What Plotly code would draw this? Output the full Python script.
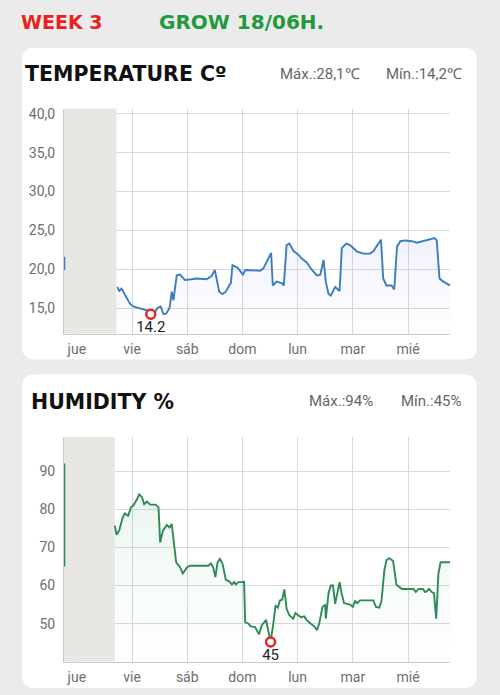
import plotly.graph_objects as go

W, H = 500, 695

# ---------------- data ----------------
day_ticks = [0, 1, 2, 3, 4, 5, 6]
day_labels = ["jue", "vie", "sáb", "dom", "lun", "mar", "mié"]

temp_ticks = [15, 20, 25, 30, 35, 40]
temp_tick_text = ["15,0", "20,0", "25,0", "30,0", "35,0", "40,0"]
hum_ticks = [50, 60, 70, 80, 90]
hum_tick_text = ["50", "60", "70", "80", "90"]

temp_day = [0.734, 0.77, 0.81, 0.89, 0.96, 1.02, 1.14, 1.27, 1.34, 1.42, 1.46, 1.52, 1.57, 1.62,
            1.68, 1.72, 1.75, 1.81, 1.87, 1.96, 2.08, 2.17, 2.35, 2.44, 2.50, 2.55, 2.58, 2.64,
            2.70, 2.76, 2.79, 2.82, 2.91, 3.01, 3.05, 3.32, 3.38, 3.52, 3.55, 3.62, 3.71, 3.75,
            3.80, 3.85, 3.93, 4.01, 4.07, 4.16, 4.26, 4.35, 4.41, 4.47, 4.51, 4.56, 4.60, 4.68,
            4.76, 4.80, 4.88, 4.95, 5.07, 5.19, 5.31, 5.37, 5.43, 5.51, 5.55, 5.61, 5.70, 5.75,
            5.80, 5.86, 5.95, 6.07, 6.16, 6.28, 6.40, 6.48, 6.52, 6.57, 6.64, 6.70, 6.76]
temp_val = [17.7, 17.2, 17.5, 16.5, 15.6, 15.2, 15.0, 14.7, 14.2, 14.5, 15.0, 15.2, 14.2, 14.3,
            15.0, 17.1, 16.0, 19.2, 19.3, 18.6, 18.7, 18.8, 18.7, 19.1, 19.9, 18.4, 17.1, 16.8,
            17.1, 17.9, 18.2, 20.5, 20.2, 19.3, 19.9, 19.8, 20.1, 22.1, 17.9, 18.4, 18.2, 17.9,
            23.1, 23.3, 22.3, 21.9, 21.4, 20.9, 19.9, 19.2, 19.3, 21.2, 18.4, 16.8, 16.6, 17.7,
            17.2, 22.7, 23.3, 23.1, 22.3, 22.0, 22.0, 22.3, 23.0, 23.8, 18.8, 17.9, 17.9, 17.4,
            22.9, 23.6, 23.7, 23.6, 23.4, 23.6, 23.8, 24.0, 23.7, 18.8, 18.4, 18.2, 17.9]
temp_edge_day = [-0.226, -0.226]
temp_edge_val = [21.6, 19.9]
temp_min_day = [1.34]
temp_min_val = [14.2]

hum_day = [0.69, 0.72, 0.77, 0.83, 0.87, 0.93, 0.98, 1.02, 1.09, 1.13, 1.18, 1.22, 1.27, 1.33,
           1.43, 1.48, 1.51, 1.56, 1.63, 1.68, 1.72, 1.75, 1.80, 1.87, 1.92, 2.00, 2.05, 2.38,
           2.43, 2.47, 2.51, 2.55, 2.59, 2.64, 2.70, 2.76, 2.81, 2.85, 2.88, 2.93, 3.01, 3.03,
           3.05, 3.11, 3.15, 3.23, 3.26, 3.30, 3.35, 3.43, 3.46, 3.51, 3.56, 3.60, 3.64, 3.68,
           3.72, 3.76, 3.80, 3.85, 3.92, 3.96, 4.01, 4.06, 4.12, 4.16, 4.24, 4.30, 4.35, 4.39,
           4.45, 4.50, 4.51, 4.56, 4.60, 4.64, 4.68, 4.71, 4.76, 4.80, 4.84, 4.95, 5.00, 5.04,
           5.08, 5.13, 5.37, 5.42, 5.48, 5.52, 5.57, 5.61, 5.66, 5.73, 5.76, 5.79, 5.89, 6.10,
           6.14, 6.19, 6.27, 6.31, 6.34, 6.38, 6.43, 6.47, 6.51, 6.55, 6.59, 6.76]
hum_val = [75.7, 73.3, 74.5, 77.8, 78.9, 78.3, 80.5, 80.9, 82.6, 83.9, 83.2, 81.3, 82.0, 81.2,
           81.2, 80.5, 71.3, 74.4, 75.9, 75.2, 76.1, 72.2, 66.1, 64.8, 63.2, 64.8, 65.2, 65.2,
           65.8, 64.8, 62.2, 66.1, 67.0, 65.7, 61.5, 61.1, 60.3, 60.9, 60.3, 60.9, 60.9, 61.1,
           50.4, 50.0, 49.3, 49.1, 48.4, 47.2, 49.6, 51.0, 48.7, 45.2, 50.0, 54.8, 54.2, 56.1,
           56.3, 59.0, 53.9, 52.2, 51.3, 52.8, 52.2, 51.7, 51.9, 51.0, 50.0, 49.3, 48.3, 50.0,
           54.4, 55.0, 51.3, 58.0, 60.0, 60.0, 55.2, 57.1, 60.9, 57.8, 55.4, 55.0, 54.4, 55.9,
           55.4, 56.1, 56.1, 54.4, 54.2, 56.1, 63.9, 66.7, 67.2, 66.4, 63.1, 60.2, 59.1, 59.1,
           58.3, 59.1, 59.1, 58.3, 58.5, 59.1, 58.3, 58.0, 51.3, 63.1, 66.1, 66.1]
hum_edge_day = [-0.226, -0.226]
hum_edge_val = [92.0, 65.0]
hum_min_day = [3.51]
hum_min_val = [45.2]

x_range = [-0.232, 6.76]
temp_range = [11.67, 40.68]
hum_range = [40.0, 98.9]
gap_temp = [-0.232, 0.72]
gap_hum = [-0.232, 0.69]

# ---------------- styling ----------------
BG = "#ebebeb"
GRID = "#d9d9d9"
AXIS = "#c9c9c9"
TICK = "#6e6e6e"
TEMP_C = "#3b7dbd"
HUM_C = "#2e8a55"
MIN_C = "#e0262a"
GAP_C = "#e8e7e4"
FONT = "Roboto"

fig = go.Figure()


def gap_trace(gap, rng, xa, ya):
    return go.Scatter(x=[gap[0], gap[1], gap[1], gap[0], gap[0]],
                      y=[rng[0], rng[0], rng[1], rng[1], rng[0]],
                      mode="lines", fill="toself", fillcolor=GAP_C,
                      line=dict(width=0, color=GAP_C), hoverinfo="skip",
                      xaxis=xa, yaxis=ya, showlegend=False)


# temperature
fig.add_trace(gap_trace(gap_temp, [temp_range[0], temp_range[1] + 0.15], "x", "y"))
fig.add_trace(go.Scatter(x=temp_edge_day, y=temp_edge_val, mode="lines",
                         line=dict(color=TEMP_C, width=1.9), xaxis="x", yaxis="y",
                         hoverinfo="skip", showlegend=False))
fig.add_trace(go.Scatter(x=temp_day, y=temp_val, mode="lines",
                         line=dict(color=TEMP_C, width=1.9), fill="tozeroy",
                         fillgradient=dict(type="vertical", start=temp_range[0], stop=24,
                                           colorscale=[[0, "rgba(120,120,230,0.0)"],
                                                       [1, "rgba(120,120,230,0.10)"]]),
                         xaxis="x", yaxis="y", showlegend=False))
fig.add_trace(go.Scatter(x=temp_min_day, y=temp_min_val, mode="markers+text",
                         text=["14.2"], textposition="bottom center",
                         textfont=dict(family=FONT, size=15, color="#222"),
                         marker=dict(size=9, color="white", line=dict(color=MIN_C, width=2.5)),
                         xaxis="x", yaxis="y", showlegend=False))

# humidity
fig.add_trace(gap_trace(gap_hum, hum_range, "x2", "y2"))
fig.add_trace(go.Scatter(x=hum_edge_day, y=hum_edge_val, mode="lines",
                         line=dict(color=HUM_C, width=1.9), xaxis="x2", yaxis="y2",
                         hoverinfo="skip", showlegend=False))
fig.add_trace(go.Scatter(x=hum_day, y=hum_val, mode="lines",
                         line=dict(color=HUM_C, width=1.9), fill="tozeroy",
                         fillgradient=dict(type="vertical", start=hum_range[0], stop=84,
                                           colorscale=[[0, "rgba(60,170,120,0.0)"],
                                                       [1, "rgba(60,170,120,0.10)"]]),
                         xaxis="x2", yaxis="y2", showlegend=False))
fig.add_trace(go.Scatter(x=hum_min_day, y=hum_min_val, mode="markers+text",
                         text=["45"], textposition="bottom center",
                         textfont=dict(family=FONT, size=15, color="#222"),
                         marker=dict(size=9, color="white", line=dict(color=MIN_C, width=2.5)),
                         xaxis="x2", yaxis="y2", showlegend=False))


def px(x):
    return x / W


def py(y):
    return (H - y) / H


def card(x0, y0, x1, y1, r=13):
    pts = (f"M {px(x0 + r)},{py(y0)} L {px(x1 - r)},{py(y0)} "
           f"Q {px(x1)},{py(y0)} {px(x1)},{py(y0 + r)} "
           f"L {px(x1)},{py(y1 - r)} Q {px(x1)},{py(y1)} {px(x1 - r)},{py(y1)} "
           f"L {px(x0 + r)},{py(y1)} Q {px(x0)},{py(y1)} {px(x0)},{py(y1 - r)} "
           f"L {px(x0)},{py(y0 + r)} Q {px(x0)},{py(y0)} {px(x0 + r)},{py(y0)} Z")
    return dict(type="path", path=pts, xref="paper", yref="paper",
                fillcolor="white", line=dict(width=0), layer="below")


shapes = [
    card(22, 45, 477, 358),
    card(22, 373, 477, 688),
]

xa = dict(range=x_range, tickvals=day_ticks, ticktext=day_labels, showgrid=True,
          gridcolor=GRID, gridwidth=1, showline=True, linecolor=AXIS, linewidth=1,
          zeroline=False, ticks="", tickfont=dict(family=FONT, size=14, color=TICK),
          ticklabelstandoff=2, fixedrange=True)

ya_common = dict(showgrid=True, gridcolor=GRID, gridwidth=1, showline=True, linecolor=AXIS,
                 linewidth=1, zeroline=False, ticks="",
                 tickfont=dict(family=FONT, size=14, color=TICK), ticklabelstandoff=5)


def label(text, x, y, anchor, size, color, family):
    return dict(text=text, x=px(x), y=py(y), xref="paper", yref="paper",
                xanchor=anchor, yanchor="middle", showarrow=False,
                font=dict(family=family, size=size, color=color))


annotations = [
    label("<b>WEEK 3</b>", 19, 19, "left", 19, "#e8221c", "DejaVu Sans"),
    label("<b>GROW 18/06H.</b>", 157, 19, "left", 20, "#1f9a3c", "DejaVu Sans"),
    label("<b>TEMPERATURE Cº</b>", 23, 71, "left", 20.5, "#111", "DejaVu Sans"),
    label("Máx.:28,1℃", 278, 71, "left", 15, "#666", FONT),
    label("Mín.:14,2℃", 464, 71, "right", 15, "#666", FONT),
    label("<b>HUMIDITY %</b>", 29, 401, "left", 20.5, "#111", "DejaVu Sans"),
    label("Máx.:94%", 307, 400, "left", 15, "#666", FONT),
    label("Mín.:45%", 464, 400, "right", 15, "#666", FONT),
]

fig.update_layout(
    width=W, height=H, margin=dict(l=0, r=0, t=0, b=0),
    paper_bgcolor=BG, plot_bgcolor="white", showlegend=False,
    font=dict(family=FONT),
    xaxis=dict(xa, domain=[px(64), px(450)], anchor="y"),
    yaxis=dict(ya_common, domain=[py(332.3), py(106)], range=temp_range,
               tickvals=temp_ticks, ticktext=temp_tick_text, anchor="x", fixedrange=True),
    xaxis2=dict(xa, domain=[px(64), px(450)], anchor="y2"),
    yaxis2=dict(ya_common, domain=[py(661.7), py(436)], range=hum_range,
                tickvals=hum_ticks, ticktext=hum_tick_text, anchor="x2", fixedrange=True),
    shapes=shapes, annotations=annotations,
)

fig.write_html("out.html", config={"displayModeBar": False},
               post_script="document.body.style.margin='0';document.body.style.background='%s';" % BG)
